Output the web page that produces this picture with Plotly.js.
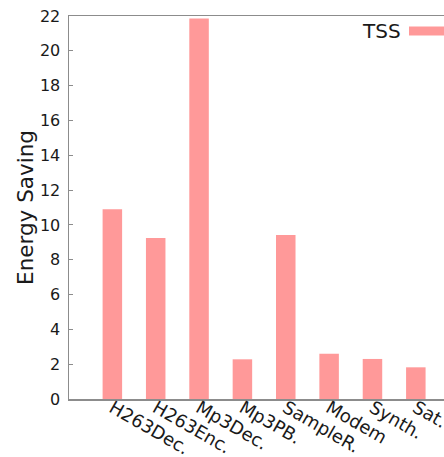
<!DOCTYPE html>
<html>
<head>
<meta charset="utf-8">
<script src="https://cdn.plot.ly/plotly-3.0.1.min.js"></script>
<style>
html,body{margin:0;padding:0;overflow:hidden;background:#fff;}
#chart{width:444px;height:457px;}
</style>
</head>
<body>
<div id="chart"></div>
<script>
const categories = ["H263Dec.", "H263Enc.", "Mp3Dec.", "Mp3PB.", "SampleR.", "Modem", "Synth.", "Sat."];
const tssValues = [10.9, 9.25, 21.85, 2.28, 9.42, 2.6, 2.3, 1.82];
const seriesName = "TSS";
const yTicks = [0, 2, 4, 6, 8, 10, 12, 14, 16, 18, 20, 22];

const barColor = "#ff9999";
const axisColor = "#8c8c8c";
const font = "DejaVu Sans, sans-serif";

const trace = {
  type: "bar",
  x: categories.map((c, i) => i),
  y: tssValues,
  name: seriesName,
  width: 0.45,
  marker: {color: barColor, line: {width: 0}},
  showlegend: false,
  hoverinfo: "skip"
};

const layout = {
  width: 444,
  height: 457,
  margin: {l: 69, r: 0, t: 16, b: 58, pad: 0},
  paper_bgcolor: "#fff",
  plot_bgcolor: "#fff",
  font: {family: font, color: "#1a1a1a", size: 16},
  xaxis: {
    range: [-1, 7.65],
    tickmode: "array",
    tickvals: categories.map((c, i) => i),
    ticktext: categories,
    tickangle: 30,
    ticks: "",
    ticklabeloverflow: "allow",
    ticklabelstandoff: -10,
    showgrid: false,
    zeroline: false,
    showline: true,
    mirror: true,
    linecolor: axisColor,
    linewidth: 1.5,
    tickfont: {family: font, size: 18, color: "#1a1a1a"},
    fixedrange: true
  },
  yaxis: {
    range: [0, 22],
    tickmode: "array",
    tickvals: yTicks,
    ticktext: yTicks.map(String),
    ticks: "inside",
    ticklen: 4,
    tickwidth: 1,
    tickcolor: axisColor,
    showgrid: false,
    zeroline: false,
    showline: true,
    linecolor: axisColor,
    linewidth: 1.5,
    ticklabelstandoff: 4,
    tickfont: {family: font, size: 16, color: "#1a1a1a"},
    title: {text: "Energy Saving", font: {family: font, size: 21.5, color: "#1a1a1a"}, standoff: 0},
    fixedrange: true
  },
  annotations: [{
    xref: "paper", yref: "paper",
    x: (403 - 69) / 375, y: (399 - 31) / 383,
    xanchor: "right", yanchor: "middle",
    text: seriesName, showarrow: false,
    font: {family: font, size: 20, color: "#1a1a1a"}
  }],
  shapes: [{
    type: "line", xref: "paper", yref: "paper",
    x0: (409 - 69) / 375, x1: 1.05,
    y0: (399 - 31) / 383, y1: (399 - 31) / 383,
    line: {color: barColor, width: 9}
  }]
};

Plotly.newPlot("chart", [trace], layout, {displayModeBar: false, staticPlot: true});
</script>
</body>
</html>
